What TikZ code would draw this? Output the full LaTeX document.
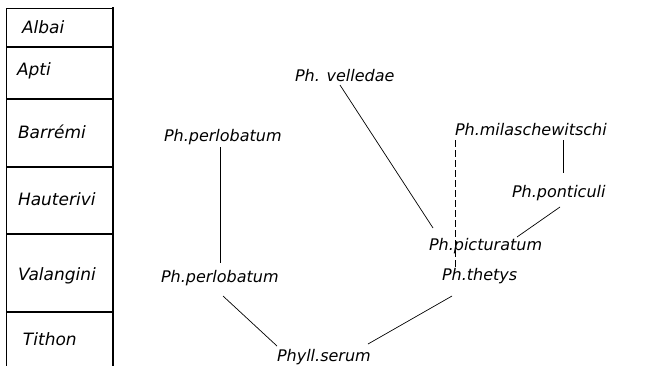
\documentclass[tikz,border=0pt]{standalone}
\usepackage{fontspec}
\newfontfamily\taxfont{DejaVu Sans}
\begin{document}
\begin{tikzpicture}[x=1pt,y=-1pt,
  taxon/.style={anchor=base west,inner sep=0pt,outer sep=0pt,
    font=\taxfont\itshape\fontsize{16}{19}\selectfont},
  stage/.style={anchor=base west,inner sep=0pt,outer sep=0pt,
    font=\taxfont\itshape\fontsize{17}{20}\selectfont},
  link/.style={line width=0.7pt},
  dlink/.style={line width=0.7pt,dash pattern=on 7pt off 3pt},
  boxline/.style={line width=1.4pt}]
\fill[white] (0,0) rectangle (656,365);
\useasboundingbox (0,0) rectangle (656,365);
% stage column
\draw[boxline] (6.5,366) -- (6.5,8.3) -- (113,8.3);
\draw[boxline] (113,7) -- (113,366);
\foreach \yy in {47,99,167,234,312}
  \draw[boxline] (6.5,\yy) -- (113,\yy);
\node[stage] (albai) at (22,33) {Albai};
\node[stage] (apti) at (17,75) {Apti};
\node[stage] (barremi) at (18,138) {Barrémi};
\node[stage] (hauterivi) at (18,205) {Hauterivi};
\node[stage] (valangini) at (18,280) {Valangini};
\node[stage] (tithon) at (23,345) {Tithon};
% taxa
\node[taxon] (pt) at (164,141) {Ph.perlobatum};
\node[taxon] (pb) at (161,282) {Ph.perlobatum};
\node[taxon] (vel) at (295,81) {Ph. velledae};
\node[taxon] (mil) at (455,135) {Ph.milaschewitschi};
\node[taxon] (pon) at (512,197) {Ph.ponticuli};
\node[taxon] (pic) at (429,250) {Ph.picturatum};
\node[taxon] (the) at (442,280) {Ph.thetys};
\node[taxon] (ser) at (277,361) {Phyll.serum};
% connectors
\draw[link] ([shift={(56,6)}]pt.base west) -- ([shift={(59,-19)}]pb.base west);
\draw[link] ([shift={(62,14)}]pb.base west) -- ([shift={(0,-15)}]ser.base west);
\draw[link] ([shift={(10,16)}]the.base west) -- ([shift={(91,-17)}]ser.base west);
\draw[link] ([shift={(45,4)}]vel.base west) -- ([shift={(4,-22)}]pic.base west);
\draw[dlink] ([shift={(0,5)}]mil.base west) -- ([shift={(13,-13)}]the.base west);
\draw[link] ([shift={(108,5)}]mil.base west) -- ([shift={(51,-24)}]pon.base west);
\draw[link] ([shift={(48,10)}]pon.base west) -- ([shift={(88,-13)}]pic.base west);
\end{tikzpicture}
\end{document}
